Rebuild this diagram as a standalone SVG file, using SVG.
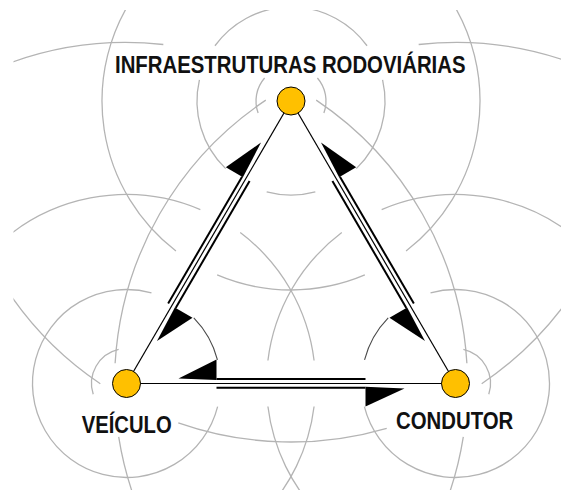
<svg xmlns="http://www.w3.org/2000/svg" xmlns:xlink="http://www.w3.org/1999/xlink" width="561" height="490" viewBox="0 0 561 490">
  <style>
    .ring { fill: none; stroke: #b4b4b4; stroke-width: 1.3; }
    .angle { fill: none; stroke: #4a4a4a; stroke-width: 1.1; }
    .axis { fill: none; stroke: #000; stroke-width: 1.2; }
    .flow { fill: none; stroke: #000; stroke-width: 2; }
    .head { fill: #000; stroke: none; }
    .node { fill: #ffc000; stroke: #000; stroke-width: 1; }
    .label { font-family: "Liberation Sans", Arial, sans-serif; font-weight: bold; font-size: 23px; fill: #111; }
  </style>
  <defs>
    <clipPath id="frame">
      <rect x="13.5" y="10" width="547.5" height="480"/>
    </clipPath>
  </defs>

  <rect width="561" height="490" fill="#fff"/>

  <!-- concentric rings around each node (r = 35, 94, 189, 341) -->
  <g id="rings" class="ring" clip-path="url(#frame)">
    <!-- top node -->
    <path d="M258.11,112.97 A35,35 0 0 1 264.59,78.04"/>
    <path d="M317.41,78.04 A35,35 0 0 1 323.89,112.97"/>
    <path d="M225.70,168.61 A94,94 0 0 1 199.41,79.85"/>
    <path d="M214.95,45.75 A94,94 0 0 1 367.05,45.75"/>
    <path d="M382.59,79.85 A94,94 0 0 1 356.30,168.61"/>
    <path d="M315.33,191.80 A94,94 0 0 1 266.67,191.80"/>
    <path d="M175.94,250.95 A189,189 0 0 1 136.18,-7.41"/>
    <path d="M445.82,-7.41 A189,189 0 0 1 406.06,250.95"/>
    <path d="M364.84,274.97 A189,189 0 0 1 217.16,274.97"/>
    <path d="M100.31,383.69 A341,341 0 0 1 -4.31,271.5"/>
    <path d="M586.31,271.5 A341,341 0 0 1 481.69,383.69"/>
    <path d="M386.72,428.29 A341,341 0 0 1 178.30,422.84"/>
    <!-- left node -->
    <path d="M93.21,394.32 A35,35 0 0 1 118.63,349.40"/>
    <path d="M217.62,406.56 A94,94 0 1 1 151.47,292.88"/>
    <path d="M-7.14,249.86 A189,189 0 0 1 200.34,209.53"/>
    <path d="M240.24,232.57 A189,189 0 0 1 314.08,360.46"/>
    <path d="M314.08,406.54 A189,189 0 0 1 260.14,517.14"/>
    <path d="M-17.61,74.45 A341,341 0 0 1 163.33,44.48"/>
    <path d="M316.20,100.13 A341,341 0 0 1 466.89,363.28"/>
    <path d="M463.31,436.83 A341,341 0 0 1 435.55,527.61"/>
    <!-- right node -->
    <path d="M463.37,349.40 A35,35 0 0 1 488.79,394.32"/>
    <path d="M430.53,292.88 A94,94 0 1 1 364.38,406.56"/>
    <path d="M381.66,209.53 A189,189 0 0 1 589.14,249.86"/>
    <path d="M267.92,360.46 A189,189 0 0 1 341.76,232.57"/>
    <path d="M321.86,517.14 A189,189 0 0 1 267.92,406.54"/>
    <path d="M418.67,44.48 A341,341 0 0 1 599.61,74.45"/>
    <path d="M115.11,363.28 A341,341 0 0 1 265.80,100.13"/>
    <path d="M146.45,527.61 A341,341 0 0 1 118.69,436.83"/>
  </g>

  <!-- connectors: centre line plus a pair of opposed half-arrows on each side -->
  <g id="connectors">
    <path class="angle" d="M193.78,317.85 A94,94 0 0 1 217.46,359.80"/>
    <path class="angle" d="M364.54,359.80 A94,94 0 0 1 388.22,317.85"/>

    <!-- VEÍCULO <-> CONDUTOR -->
    <g id="edge-veiculo-condutor" transform="translate(126.5,383.5)">
      <path class="axis" d="M0,0 H329"/>
      <path class="flow" d="M90,-4.5 H239"/>
      <path class="flow" d="M90,4.2 H239"/>
      <polygon class="head" points="52,-5 90,-24 90,-3.5"/>
      <polygon class="head" points="239,3.2 239,23 278,5"/>
    </g>

    <!-- CONDUTOR <-> INFRAESTRUTURAS -->
    <g id="edge-condutor-infra" transform="translate(455.5,383.5) rotate(-120.21)">
      <path class="axis" d="M0,0 H326.9"/>
      <path class="flow" d="M90,-4.5 H236.9"/>
      <path class="flow" d="M90,4.2 H236.9"/>
      <polygon class="head" points="52,-5 90,-24 90,-3.5"/>
      <polygon class="head" points="236.9,3.2 236.9,23 275.9,5"/>
    </g>

    <!-- VEÍCULO <-> INFRAESTRUTURAS -->
    <g id="edge-veiculo-infra" transform="translate(126.5,383.5) rotate(-59.79) scale(1,-1)">
      <path class="axis" d="M0,0 H326.9"/>
      <path class="flow" d="M90,-4.5 H236.9"/>
      <path class="flow" d="M90,4.2 H236.9"/>
      <polygon class="head" points="52,-5 90,-24 90,-3.5"/>
      <polygon class="head" points="236.9,3.2 236.9,23 275.9,5"/>
    </g>
  </g>

  <g id="node-infraestruturas">
    <circle class="node" cx="291" cy="101" r="14"/>
    <text class="label" x="115" y="72.5" textLength="350.5" lengthAdjust="spacingAndGlyphs">INFRAESTRUTURAS RODOVIÁRIAS</text>
  </g>
  <g id="node-veiculo">
    <circle class="node" cx="126.5" cy="383.5" r="14"/>
    <text class="label" x="81.7" y="433.3" textLength="90" lengthAdjust="spacingAndGlyphs">VEÍCULO</text>
  </g>
  <g id="node-condutor">
    <circle class="node" cx="455.5" cy="383.5" r="14"/>
    <text class="label" x="396" y="429.3" textLength="117.3" lengthAdjust="spacingAndGlyphs">CONDUTOR</text>
  </g>
</svg>
